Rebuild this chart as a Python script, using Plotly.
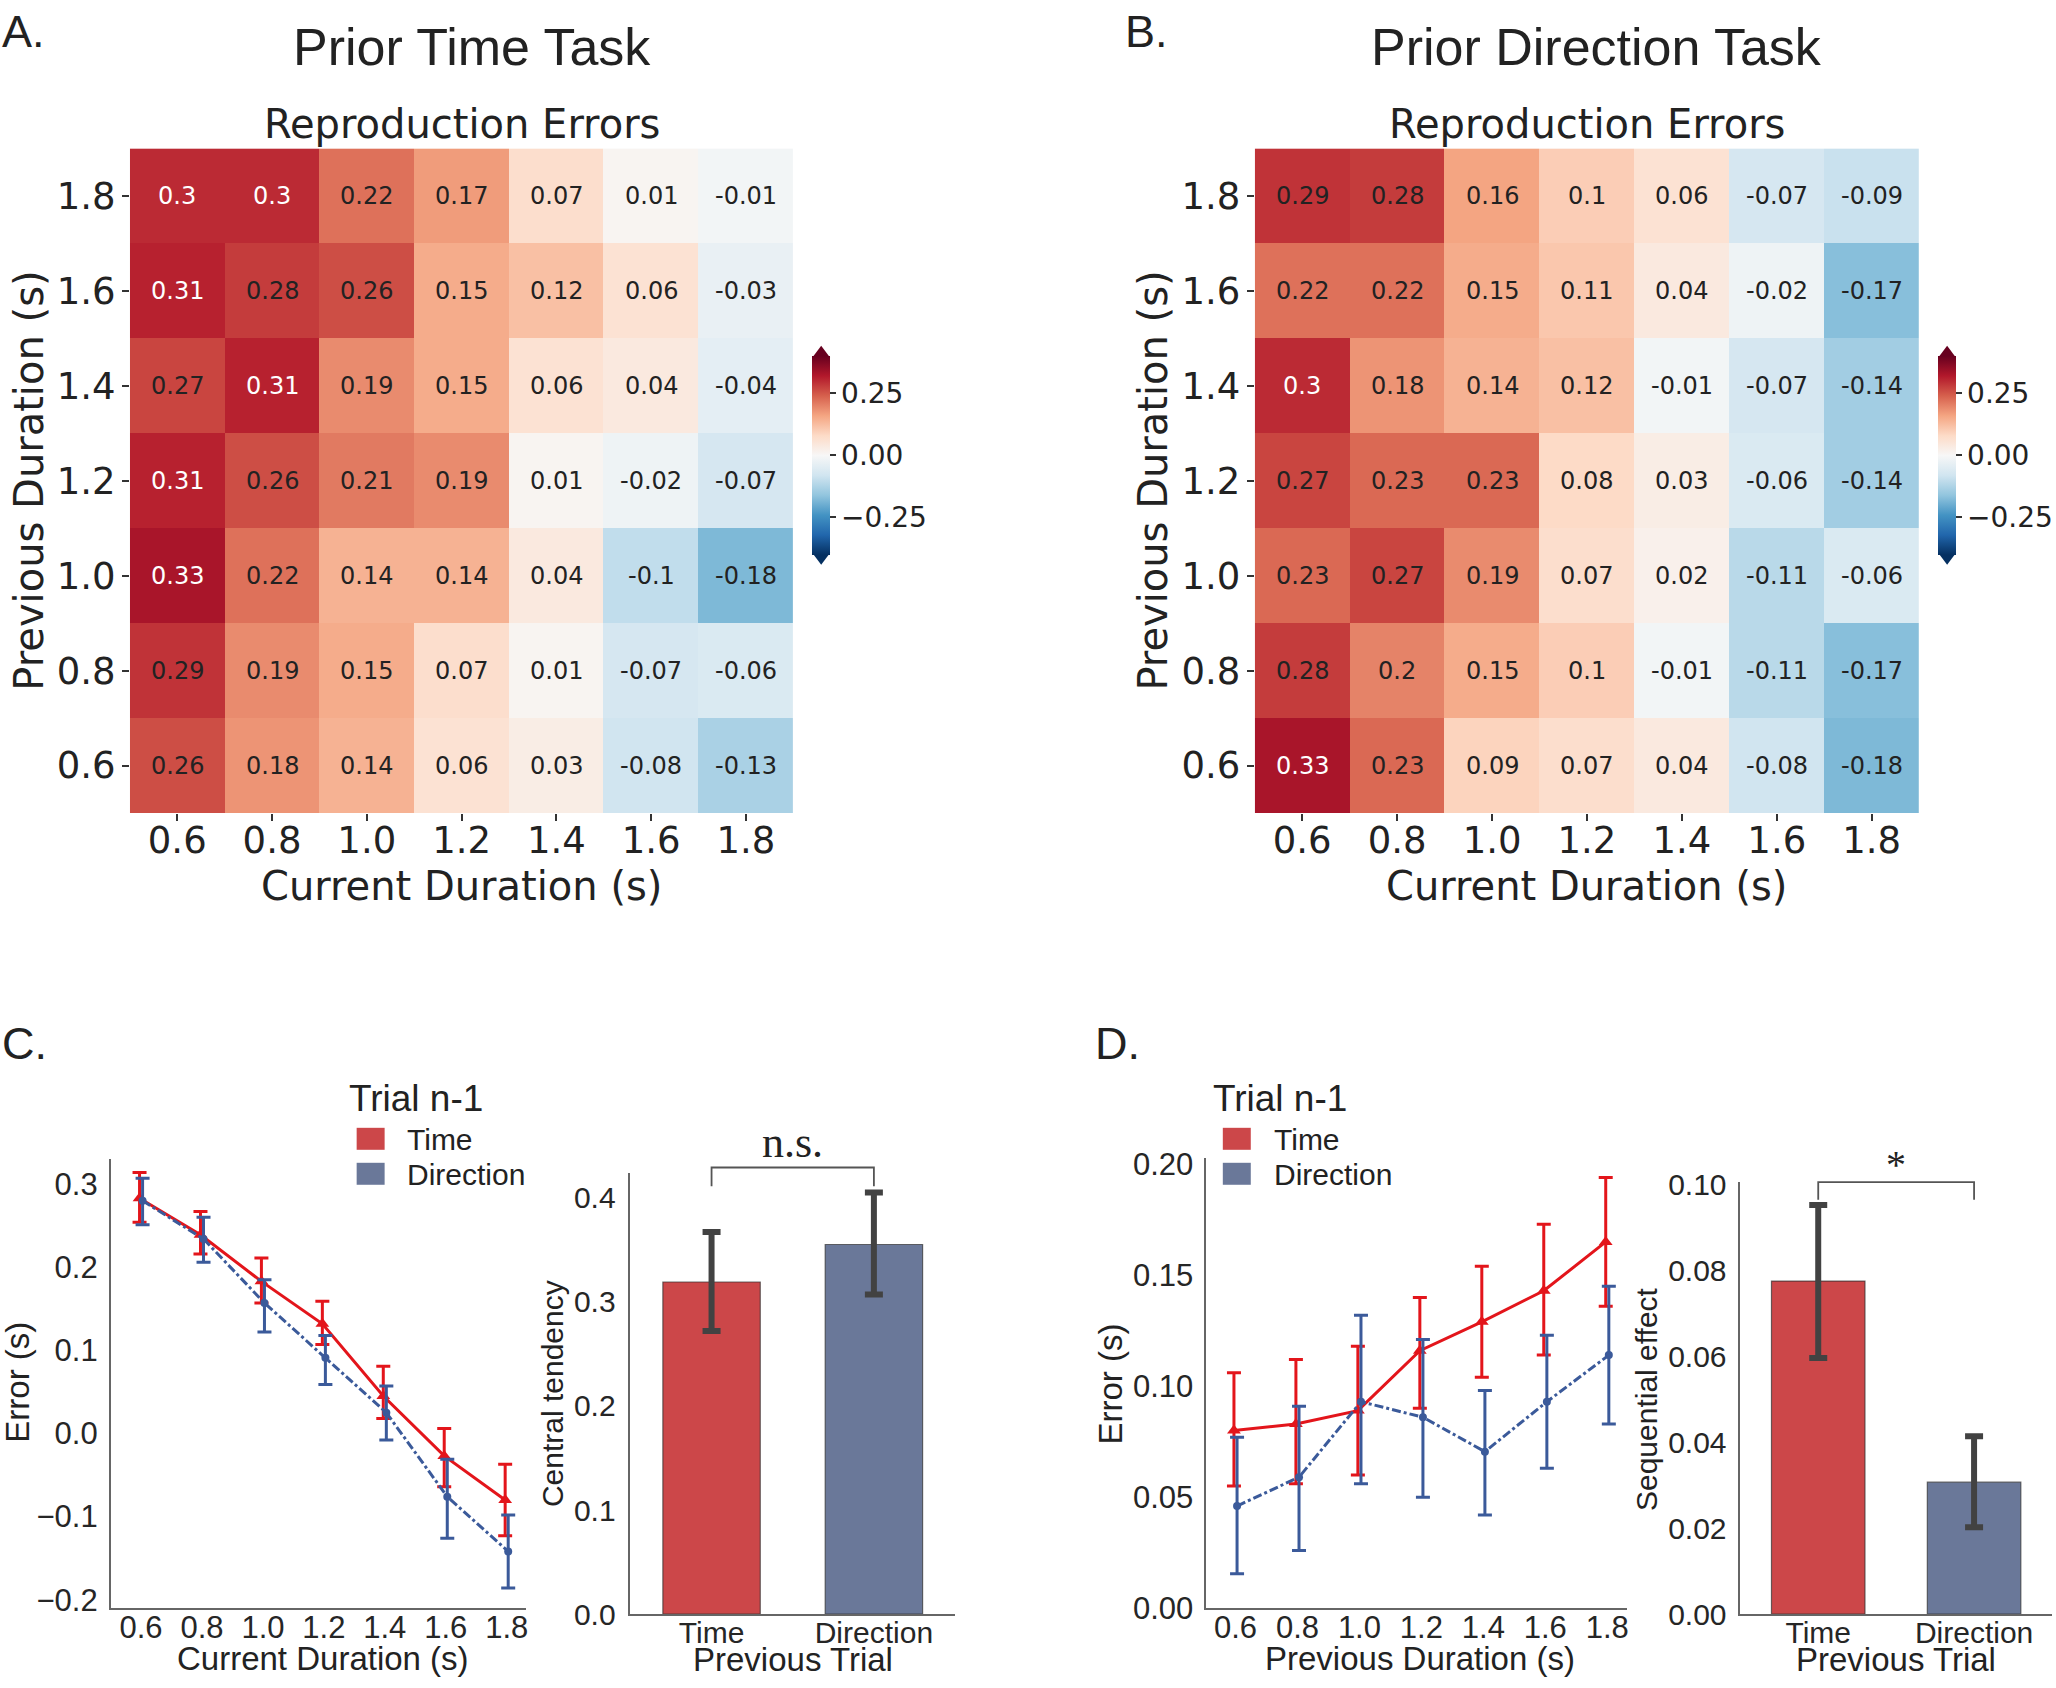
import plotly.graph_objects as go

W, H = 2056, 1688

# ---------------- data ----------------
durations = [0.6, 0.8, 1.0, 1.2, 1.4, 1.6, 1.8]
dur_labels = ["0.6", "0.8", "1.0", "1.2", "1.4", "1.6", "1.8"]

# rows: previous duration 0.6 (bottom) ... 1.8 (top); cols: current duration 0.6 ... 1.8
time_task_errors = [
    [0.26, 0.18, 0.14, 0.06, 0.03, -0.08, -0.13],
    [0.29, 0.19, 0.15, 0.07, 0.01, -0.07, -0.06],
    [0.33, 0.22, 0.14, 0.14, 0.04, -0.10, -0.18],
    [0.31, 0.26, 0.21, 0.19, 0.01, -0.02, -0.07],
    [0.27, 0.31, 0.19, 0.15, 0.06, 0.04, -0.04],
    [0.31, 0.28, 0.26, 0.15, 0.12, 0.06, -0.03],
    [0.30, 0.30, 0.22, 0.17, 0.07, 0.01, -0.01],
]
direction_task_errors = [
    [0.33, 0.23, 0.09, 0.07, 0.04, -0.08, -0.18],
    [0.28, 0.20, 0.15, 0.10, -0.01, -0.11, -0.17],
    [0.23, 0.27, 0.19, 0.07, 0.02, -0.11, -0.06],
    [0.27, 0.23, 0.23, 0.08, 0.03, -0.06, -0.14],
    [0.30, 0.18, 0.14, 0.12, -0.01, -0.07, -0.14],
    [0.22, 0.22, 0.15, 0.11, 0.04, -0.02, -0.17],
    [0.29, 0.28, 0.16, 0.10, 0.06, -0.07, -0.09],
]

# Panel C: error vs current duration
c_time_mean = [0.283, 0.239, 0.183, 0.132, 0.045, -0.027, -0.080]
c_time_high = [0.314, 0.267, 0.211, 0.159, 0.081, 0.006, -0.037]
c_time_low = [0.254, 0.216, 0.157, 0.107, 0.018, -0.064, -0.123]
c_dir_mean = [0.280, 0.234, 0.157, 0.091, 0.025, -0.076, -0.142]
c_dir_high = [0.307, 0.260, 0.185, 0.118, 0.057, -0.031, -0.098]
c_dir_low = [0.251, 0.206, 0.122, 0.059, -0.008, -0.126, -0.186]

trial_types = ["Time", "Direction"]
central_tendency = [0.319, 0.355]
central_tendency_low = [0.272, 0.307]
central_tendency_high = [0.367, 0.405]

# Panel D: error vs previous duration
d_time_mean = [0.080, 0.083, 0.089, 0.116, 0.129, 0.143, 0.165]
d_time_high = [0.106, 0.112, 0.118, 0.140, 0.154, 0.173, 0.194]
d_time_low = [0.055, 0.056, 0.060, 0.090, 0.104, 0.114, 0.136]
d_dir_mean = [0.046, 0.059, 0.093, 0.086, 0.0705, 0.093, 0.114]
d_dir_high = [0.077, 0.091, 0.132, 0.121, 0.098, 0.123, 0.145]
d_dir_low = [0.0155, 0.026, 0.056, 0.050, 0.042, 0.063, 0.083]

sequential_effect = [0.0775, 0.0307]
sequential_effect_low = [0.0596, 0.0202]
sequential_effect_high = [0.0952, 0.0414]

# ---------------- styles ----------------
RED_LINE = "#e3151b"
BLUE_LINE = "#3b5a9a"
RED_BAR = "#cc4749"
BLUE_BAR = "#6a7899"
rdbu = ["#053061", "#2166ac", "#4393c3", "#92c5de", "#d1e5f0", "#f7f7f7",
        "#fddbc7", "#f4a582", "#d6604d", "#b2182b", "#67001f"]
colorscale = [[i / 10, c] for i, c in enumerate(rdbu)]

SANS = "Liberation Sans"
DEJA = "DejaVu Sans"
SERIF = "Liberation Serif"
TXT = "#222222"

# vertical placement calibration of the rendered page
VS, VO = 1.0187, -13.76


def fx(px):
    return px / W


def ty(py):
    return VS * py + VO


def fy(py):
    return 1 - ty(py) / H


def d2p(v, rng, p0, p1):
    return p0 + (v - rng[0]) / (rng[1] - rng[0]) * (p1 - p0)


fig = go.Figure()

# ---------------- heatmaps ----------------
HM_A = dict(x0=130, x1=794)
HM_B = dict(x0=1256, x1=1921)
HM_Y0, HM_Y1 = 148, 813

for z, xa, ya, cax in [(time_task_errors, "x", "y", "coloraxis"),
                       (direction_task_errors, "x2", "y2", "coloraxis2")]:
    fig.add_trace(go.Heatmap(z=z, x=durations, y=durations, xaxis=xa, yaxis=ya,
                             coloraxis=cax, xgap=0, ygap=0, hoverinfo="skip"))
    for i, prev in enumerate(durations):
        for j, cur in enumerate(durations):
            v = z[i][j]
            fig.add_annotation(x=cur, y=prev, xref=xa, yref=ya, text=f"{v:g}",
                               showarrow=False,
                               font=dict(family=DEJA, size=24,
                                         color="white" if v >= 0.295 else TXT))

hm_axis = dict(tickvals=durations, ticktext=dur_labels, range=[0.5, 1.9],
               ticks="outside", ticklen=7, tickwidth=1.5, tickcolor="#333",
               tickfont=dict(family=DEJA, size=37, color=TXT),
               showgrid=False, zeroline=False, showline=False)
hm_x = dict(hm_axis, ticklabelstandoff=-12)
hm_y = dict(hm_axis, ticklabelstandoff=-1)

CB_LEN = 195 * VS


def cbar(x0):
    return dict(x=fx(x0), xanchor="left", y=fy(455), yanchor="middle",
                len=CB_LEN, lenmode="pixels", thickness=18, thicknessmode="pixels",
                xpad=0, ypad=0, outlinewidth=0,
                tickvals=[-0.25, 0, 0.25], ticktext=["\u22120.25", "0.00", "0.25"],
                ticks="outside", ticklen=6, tickwidth=1.5, tickcolor="#333",
                tickfont=dict(family=DEJA, size=28, color=TXT))


# ---------------- panels C / D ----------------
def err(mean, low, high):
    return dict(type="data", symmetric=False,
                array=[h - m for m, h in zip(mean, high)],
                arrayminus=[m - l for m, l in zip(mean, low)])


for mean, low, high, col, dash, sym, msize, off, xa, ya in [
        (c_time_mean, c_time_low, c_time_high, RED_LINE, "solid", "triangle-up", 12, -0.005, "x3", "y3"),
        (c_dir_mean, c_dir_low, c_dir_high, BLUE_LINE, "dashdot", "circle", 8, 0.005, "x3", "y3"),
        (d_time_mean, d_time_low, d_time_high, RED_LINE, "solid", "triangle-up", 12, -0.005, "x5", "y5"),
        (d_dir_mean, d_dir_low, d_dir_high, BLUE_LINE, "dashdot", "circle", 8, 0.005, "x5", "y5")]:
    e = err(mean, low, high)
    e.update(color=col, thickness=3, width=7)
    fig.add_trace(go.Scatter(x=[d + off for d in durations], y=mean, xaxis=xa, yaxis=ya,
                             mode="lines+markers", line=dict(color=col, width=3, dash=dash),
                             marker=dict(symbol=sym, size=msize, color=col),
                             error_y=e, showlegend=False, hoverinfo="skip"))

for vals, low, high, xa, ya in [
        (central_tendency, central_tendency_low, central_tendency_high, "x4", "y4"),
        (sequential_effect, sequential_effect_low, sequential_effect_high, "x6", "y6")]:
    e = err(vals, low, high)
    e.update(color="#424242", thickness=6, width=9)
    fig.add_trace(go.Bar(x=[0, 1], y=vals, xaxis=xa, yaxis=ya, width=0.6,
                         marker=dict(color=[RED_BAR, BLUE_BAR],
                                     line=dict(color="rgba(50,50,50,0.7)", width=1.2)),
                         error_y=e, showlegend=False, hoverinfo="skip"))


def lin_axis(ticklen, size=31, standoff=0):
    return dict(showline=True, linecolor="#666666", linewidth=1.5, ticks="outside",
                ticklen=ticklen, tickcolor="rgba(0,0,0,0)", ticklabelstandoff=standoff,
                tickfont=dict(family=SANS, size=size, color="#262626"),
                showgrid=False, zeroline=False)


XT_LEN, XT_OFF = 2, -11

C_LINE_X = (110.7, 527)
C_LINE_Y = (1608.5, 1159.4)
C_LINE_XR = [0.5, 1.865]
C_LINE_YR = [-0.21, 0.33]
C_BAR_X = (631, 956)
C_BAR_Y = (1614.6, 1172.9)
C_BAR_YR = [0, 0.424]
D_LINE_X = (1207.4, 1629)
D_LINE_Y = (1608.6, 1157.8)
D_LINE_XR = [0.5055, 1.865]
D_LINE_YR = [0, 0.203]
D_BAR_X = (1742, 2054)
D_BAR_Y = (1614.6, 1182.4)
D_BAR_YR = [0, 0.1005]
BAR_XR = [-0.5, 1.5]

layout = dict(
    width=W, height=H, margin=dict(l=0, r=0, t=0, b=0), autosize=False,
    paper_bgcolor="white", plot_bgcolor="white", showlegend=False,
    coloraxis=dict(colorscale=colorscale, cmin=-0.4, cmax=0.4, colorbar=cbar(813)),
    coloraxis2=dict(colorscale=colorscale, cmin=-0.4, cmax=0.4, colorbar=cbar(1940)),
    xaxis=dict(domain=[fx(HM_A["x0"]), fx(HM_A["x1"])], anchor="y", **hm_x),
    yaxis=dict(domain=[fy(HM_Y1), fy(HM_Y0)], anchor="x", **hm_y),
    xaxis2=dict(domain=[fx(HM_B["x0"]), fx(HM_B["x1"])], anchor="y2", **hm_x),
    yaxis2=dict(domain=[fy(HM_Y1), fy(HM_Y0)], anchor="x2", **hm_y),
    xaxis3=dict(domain=[fx(C_LINE_X[0]), fx(C_LINE_X[1])], anchor="y3", range=C_LINE_XR,
                tickvals=durations, ticktext=dur_labels, **lin_axis(XT_LEN, 31, XT_OFF)),
    yaxis3=dict(domain=[fy(C_LINE_Y[0]), fy(C_LINE_Y[1])], anchor="x3", range=C_LINE_YR,
                tickvals=[-0.2, -0.1, 0, 0.1, 0.2, 0.3], tickformat=".1f", **lin_axis(5)),
    xaxis4=dict(domain=[fx(C_BAR_X[0]), fx(C_BAR_X[1])], anchor="y4", range=BAR_XR,
                tickvals=[0, 1], ticktext=trial_types, **lin_axis(XT_LEN, 30, XT_OFF)),
    yaxis4=dict(domain=[fy(C_BAR_Y[0]), fy(C_BAR_Y[1])], anchor="x4", range=C_BAR_YR,
                tickvals=[0, 0.1, 0.2, 0.3, 0.4], tickformat=".1f", **lin_axis(7, 30)),
    xaxis5=dict(domain=[fx(D_LINE_X[0]), fx(D_LINE_X[1])], anchor="y5", range=D_LINE_XR,
                tickvals=durations, ticktext=dur_labels, **lin_axis(XT_LEN, 31, XT_OFF)),
    yaxis5=dict(domain=[fy(D_LINE_Y[0]), fy(D_LINE_Y[1])], anchor="x5", range=D_LINE_YR,
                tickvals=[0, 0.05, 0.1, 0.15, 0.2], tickformat=".2f", **lin_axis(5)),
    xaxis6=dict(domain=[fx(D_BAR_X[0]), fx(D_BAR_X[1])], anchor="y6", range=BAR_XR,
                tickvals=[0, 1], ticktext=trial_types, **lin_axis(XT_LEN, 30, XT_OFF)),
    yaxis6=dict(domain=[fy(D_BAR_Y[0]), fy(D_BAR_Y[1])], anchor="x6", range=D_BAR_YR,
                tickvals=[0, 0.02, 0.04, 0.06, 0.08, 0.1], tickformat=".2f", **lin_axis(6, 30)),
)
fig.update_layout(**layout)

shapes = []
# colorbar extension triangles
for x0 in (813, 1940):
    xc = x0 + 9
    top0, bot0 = 455 - 97.5, 455 + 97.5
    shapes.append(dict(type="path", xref="paper", yref="paper", line=dict(width=0),
                       fillcolor="#67001f",
                       path=f"M {fx(x0)} {fy(top0)} L {fx(x0 + 18)} {fy(top0)} L {fx(xc)} {fy(top0 - 12)} Z"))
    shapes.append(dict(type="path", xref="paper", yref="paper", line=dict(width=0),
                       fillcolor="#053061",
                       path=f"M {fx(x0)} {fy(bot0)} L {fx(x0 + 18)} {fy(bot0)} L {fx(xc)} {fy(bot0 + 12)} Z"))


# significance brackets
def bracket(xpx, ypx, yr, y_top, y_leg):
    xl = d2p(0, BAR_XR, *xpx)
    xr = d2p(1, BAR_XR, *xpx)
    yt = d2p(y_top, yr, *ypx)
    yl = d2p(y_leg, yr, *ypx)
    return dict(type="path", xref="paper", yref="paper", line=dict(color="#555555", width=1.8),
                path=f"M {fx(xl)} {fy(yl)} L {fx(xl)} {fy(yt)} L {fx(xr)} {fy(yt)} L {fx(xr)} {fy(yl)}"), (xl + xr) / 2, yt


b1, c1x, c1y = bracket(C_BAR_X, C_BAR_Y, C_BAR_YR, 0.429, 0.411)
b2, c2x, c2y = bracket(D_BAR_X, D_BAR_Y, D_BAR_YR, 0.1005, 0.0964)
shapes += [b1, b2]

# manual legends (Trial n-1)
legend_specs = [(357, 405, 416), (1224, 1273, 1281)]
for sx, tx, titlex in legend_specs:
    shapes.append(dict(type="rect", xref="paper", yref="paper", line=dict(width=0),
                       fillcolor=RED_BAR, x0=fx(sx), x1=fx(sx + 28), y0=fy(1150), y1=fy(1128)))
    shapes.append(dict(type="rect", xref="paper", yref="paper", line=dict(width=0),
                       fillcolor=BLUE_BAR, x0=fx(sx), x1=fx(sx + 28), y0=fy(1185), y1=fy(1163)))
fig.update_layout(shapes=shapes)


def ann(text, x, y, size, family=SANS, angle=0, xanchor="center", yanchor="middle", color=TXT,
        raw=False):
    yy = (1 - y / H) if raw else fy(y)
    fig.add_annotation(text=text, x=fx(x), y=yy, xref="paper", yref="paper",
                       showarrow=False, textangle=angle, xanchor=xanchor, yanchor=yanchor,
                       font=dict(family=family, size=size, color=color))


for sx, tx, titlex in legend_specs:
    ann("Trial n-1", titlex, 1099, 37)
    ann("Time", tx, 1140, 30, xanchor="left")
    ann("Direction", tx, 1175, 30, xanchor="left")

# significance labels
ann("n.s.", c1x, c1y + 2, 44, family=SERIF, yanchor="bottom")
ann("*", c2x, c2y + 7, 40, family=SERIF, yanchor="bottom")

# panel letters (kept inside the page top edge)
ann("A.", 0, 18, 45, xanchor="left", raw=True)
ann("B.", 1124, 18, 45, xanchor="left", raw=True)
ann("C.", 0, 1044, 45, xanchor="left")
ann("D.", 1094, 1044, 45, xanchor="left")

# heatmap titles
ann("Prior Time Task", 472, 47, 52)
ann("Prior Direction Task", 1598, 47, 52)
ann("Reproduction Errors", (HM_A["x0"] + HM_A["x1"]) / 2, 124, 40, family=DEJA)
ann("Reproduction Errors", (HM_B["x0"] + HM_B["x1"]) / 2, 124, 40, family=DEJA)
ann("Previous Duration (s)", 29, (HM_Y0 + HM_Y1) / 2, 40, family=DEJA, angle=-90)
ann("Previous Duration (s)", 1154, (HM_Y0 + HM_Y1) / 2, 40, family=DEJA, angle=-90)
ann("Current Duration (s)", (HM_A["x0"] + HM_A["x1"]) / 2, 886, 40, family=DEJA)
ann("Current Duration (s)", (HM_B["x0"] + HM_B["x1"]) / 2, 886, 40, family=DEJA)

# line / bar axis titles (bottom ones kept inside the page bottom edge)
ann("Error (s)", 18, 1382, 33, angle=-90)
ann("Current Duration (s)", 323, 1676, 33, raw=True)
ann("Central tendency", 553, 1394, 30, angle=-90)
ann("Previous Trial", (C_BAR_X[0] + C_BAR_X[1]) / 2, 1677, 33, raw=True)
ann("Error (s)", 1112, 1384, 33, angle=-90)
ann("Previous Duration (s)", 1421, 1676, 33, raw=True)
ann("Sequential effect", 1648, 1399, 30, angle=-90)
ann("Previous Trial", (D_BAR_X[0] + D_BAR_X[1]) / 2, 1677, 33, raw=True)

fig.write_html("out.html", config={"displayModeBar": False},
               post_script="document.body.style.margin='0px';"
                           "document.body.style.overflow='hidden';"
                           "document.documentElement.style.overflow='hidden';")
